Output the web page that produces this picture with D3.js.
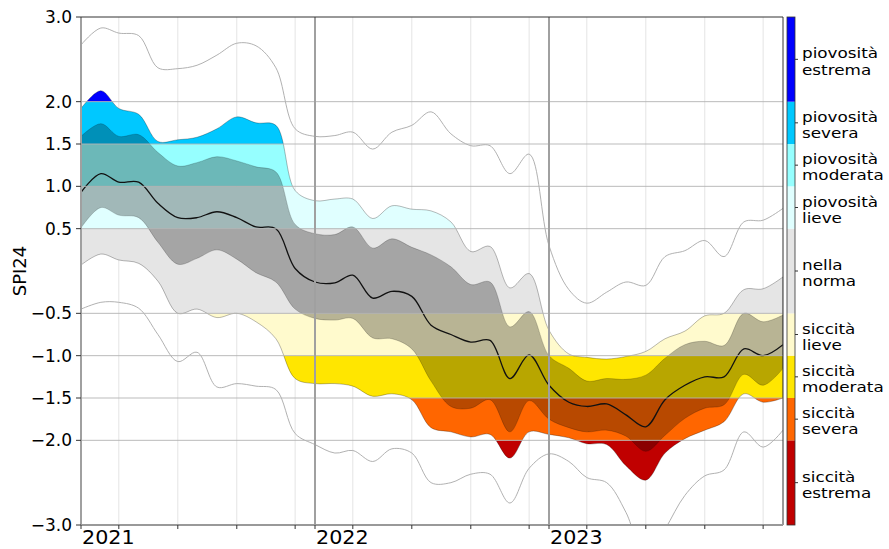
<!DOCTYPE html>
<meta charset="utf-8">
<style>
  body { margin: 0; background: #fff; }
  text { font-family: "DejaVu Sans", sans-serif; fill: #000; }
</style>
<div id="chart"></div>
<script src="https://d3js.org/d3.v7.min.js"></script>
<script>

// monthly samples, Jan 2021 .. Jan 2024
var months = d3.utcMonth.range(new Date(Date.UTC(2021, 0, 1)), new Date(Date.UTC(2024, 0, 2)));

// SPI24 ensemble: envelope, outer band, inner band, median
var spiMax = [2.67, 2.87, 2.81, 2.78, 2.40, 2.39, 2.43, 2.55, 2.69, 2.66, 2.40, 1.68, 1.59, 1.60, 1.64, 1.44, 1.64, 1.72, 1.88, 1.62, 1.48, 1.48, 1.15, 1.38, 0.30, -0.22, -0.38, -0.25, -0.13, -0.17, 0.17, 0.24, 0.36, 0.17, 0.58, 0.60, 0.74];
var spiP90 = [1.92, 2.13, 1.92, 1.85, 1.53, 1.55, 1.58, 1.68, 1.82, 1.75, 1.72, 0.95, 0.83, 0.85, 0.85, 0.62, 0.77, 0.73, 0.71, 0.58, 0.23, 0.29, -0.20, -0.03, -0.70, -0.98, -1.02, -1.04, -1.01, -0.95, -0.80, -0.71, -0.53, -0.50, -0.22, -0.21, -0.07];
var spiP75 = [1.59, 1.74, 1.59, 1.61, 1.40, 1.24, 1.28, 1.35, 1.30, 1.23, 1.17, 0.55, 0.44, 0.43, 0.52, 0.27, 0.38, 0.28, 0.19, 0.05, -0.16, -0.13, -0.66, -0.48, -1.00, -1.15, -1.30, -1.27, -1.28, -1.23, -1.03, -0.87, -0.83, -0.88, -0.50, -0.60, -0.52];
var spiMed = [0.93, 1.15, 1.05, 1.05, 0.80, 0.63, 0.63, 0.70, 0.63, 0.52, 0.50, 0.03, -0.13, -0.14, -0.05, -0.32, -0.24, -0.30, -0.64, -0.75, -0.84, -0.82, -1.27, -0.99, -1.35, -1.55, -1.60, -1.57, -1.70, -1.84, -1.52, -1.35, -1.25, -1.25, -0.92, -1.00, -0.87];
var spiP25 = [0.51, 0.75, 0.66, 0.63, 0.34, 0.08, 0.15, 0.25, 0.14, -0.02, -0.13, -0.45, -0.56, -0.58, -0.56, -0.79, -0.80, -0.92, -1.30, -1.60, -1.62, -1.52, -1.90, -1.53, -1.75, -1.85, -1.90, -1.88, -1.95, -2.13, -1.94, -1.74, -1.62, -1.58, -1.22, -1.35, -1.15];
var spiP10 = [0.07, 0.20, 0.13, 0.09, -0.12, -0.50, -0.45, -0.55, -0.50, -0.60, -0.80, -1.27, -1.33, -1.33, -1.36, -1.48, -1.45, -1.52, -1.85, -1.90, -1.96, -1.93, -2.21, -1.90, -1.93, -1.97, -2.04, -2.05, -2.30, -2.47, -2.15, -1.98, -1.88, -1.78, -1.45, -1.55, -1.50];
var spiMin = [-0.45, -0.37, -0.37, -0.44, -0.75, -1.07, -0.96, -1.37, -1.33, -1.36, -1.40, -1.92, -2.05, -2.15, -2.12, -2.25, -2.10, -2.15, -2.50, -2.50, -2.40, -2.40, -2.74, -2.33, -2.16, -2.25, -2.44, -2.50, -2.85, -3.40, -3.05, -2.65, -2.42, -2.35, -1.90, -2.08, -1.88];

// SPI classes
var classEdges = [-3, -2, -1.5, -1, -0.5, 0.5, 1, 1.5, 2, 3];
var classColors = ["#c00000", "#ff6600", "#ffe600", "#fffacd", "#e5e5e5", "#e0ffff", "#96ffff", "#00c8ff", "#0000ff"];
var classLabels = [["siccità", "estrema"], ["siccità", "severa"], ["siccità", "moderata"], ["siccità", "lieve"],
                   ["nella", "norma"], ["piovosità", "lieve"], ["piovosità", "moderata"], ["piovosità", "severa"], ["piovosità", "estrema"]];

var yTicks = [3.0, 2.0, 1.5, 1.0, 0.5, -0.5, -1.0, -1.5, -2.0, -3.0];
var yearLabels = ["2021", "2022", "2023"];

var margin = {top: 17, right: 106, bottom: 24, left: 81},
    width = 889 - margin.left - margin.right,
    height = 549 - margin.top - margin.bottom;

var svg = d3.select("#chart").append("svg")
    .attr("width", 889).attr("height", 549);
var defs = svg.append("defs");
var plot = svg.append("g")
    .attr("transform", "translate(" + margin.left + "," + margin.top + ")");

var x = d3.scaleUtc()
    .domain([new Date(Date.UTC(2021, 0, 1)), new Date(Date.UTC(2024, 0, 1))])
    .range([0, width]);
var y = d3.scaleLinear().domain([-3, 3]).range([height, 0]);

var rows = months.map(function(d, i) {
  return {date: d, max: spiMax[i], p90: spiP90[i], p75: spiP75[i], med: spiMed[i], p25: spiP25[i], p10: spiP10[i], min: spiMin[i]};
});
var bands = classColors.map(function(c, i) {
  return {lo: classEdges[i], hi: classEdges[i + 1], color: c, label: classLabels[i]};
});

var curve = d3.curveCatmullRom.alpha(0.5);

defs.append("clipPath").attr("id", "plotClip")
  .append("rect").attr("width", width).attr("height", height);

// minor grid (Mar, Jun, Sep, Dec)
var minorDates = d3.utcMonth.range(x.domain()[0], x.domain()[1]).filter(function(d) { return d.getUTCMonth() % 3 === 2; });
plot.append("g").selectAll("line").data(minorDates).join("line")
    .attr("x1", d => x(d)).attr("x2", d => x(d))
    .attr("y1", 0).attr("y2", height)
    .attr("stroke", "#e4e4e4").attr("stroke-width", 1);

var data = plot.append("g").attr("clip-path", "url(#plotClip)");

// outer band coloured by SPI class
var outerArea = d3.area().curve(curve)
    .x(d => x(d.date)).y0(d => y(d.p10)).y1(d => y(d.p90));
defs.append("clipPath").attr("id", "fanClip")
  .append("path").attr("d", outerArea(rows));
data.append("g").attr("clip-path", "url(#fanClip)")
  .selectAll("rect").data(bands).join("rect")
    .attr("x", 0).attr("width", width)
    .attr("y", d => y(d.hi)).attr("height", d => y(d.lo) - y(d.hi))
    .attr("fill", d => d.color);
data.append("path").attr("d", outerArea(rows))
    .attr("fill", "none").attr("stroke", "#000").attr("stroke-opacity", 0.35).attr("stroke-width", 0.8);

// inner band
var innerArea = d3.area().curve(curve)
    .x(d => x(d.date)).y0(d => y(d.p25)).y1(d => y(d.p75));
data.append("path").attr("d", innerArea(rows))
    .attr("fill", "#000").attr("fill-opacity", 0.28)
    .attr("stroke", "#000").attr("stroke-opacity", 0.25).attr("stroke-width", 0.8);

// horizontal grid
plot.append("g").selectAll("line").data(yTicks.filter(d => Math.abs(d) < 3)).join("line")
    .attr("x1", 0).attr("x2", width)
    .attr("y1", d => y(d)).attr("y2", d => y(d))
    .attr("stroke", "#b4b4b4").attr("stroke-opacity", 0.9).attr("stroke-width", 1);

// year lines
var years = d3.utcYear.range(x.domain()[0], x.domain()[1]);
plot.append("g").selectAll("line").data(years).join("line")
    .attr("x1", d => x(d)).attr("x2", d => x(d))
    .attr("y1", 0).attr("y2", height)
    .attr("stroke", "#a0a0a0").attr("stroke-width", 2);

// envelope and median
["max", "min"].forEach(function(k) {
  data.append("path")
      .attr("d", d3.line().curve(curve).x(d => x(d.date)).y(d => y(d[k]))(rows))
      .attr("fill", "none").attr("stroke", "#a8a8a8").attr("stroke-width", 0.9);
});
data.append("path")
    .attr("d", d3.line().curve(curve).x(d => x(d.date)).y(d => y(d.med))(rows))
    .attr("fill", "none").attr("stroke", "#111").attr("stroke-width", 1.3);

// frame
plot.append("line").attr("x1", 0).attr("x2", width).attr("y1", 0).attr("y2", 0)
    .attr("stroke", "#333").attr("stroke-width", 1);
plot.append("line").attr("x1", width).attr("x2", width).attr("y1", 0).attr("y2", height)
    .attr("stroke", "#333").attr("stroke-width", 1);
plot.append("line").attr("x1", 0).attr("x2", width).attr("y1", height).attr("y2", height)
    .attr("stroke", "#999").attr("stroke-width", 2);

// y axis
var yAxis = plot.append("g");
yAxis.selectAll("line").data(yTicks).join("line")
    .attr("x1", -5).attr("x2", 0)
    .attr("y1", d => y(d)).attr("y2", d => y(d))
    .attr("stroke", "#333");
yAxis.selectAll("text").data(yTicks).join("text")
    .attr("x", -9).attr("y", d => y(d)).attr("dy", "0.36em")
    .attr("text-anchor", "end").style("font-size", "17px")
    .text(d => d3.format(".1f")(d));

svg.append("text")
    .attr("transform", "translate(26," + (margin.top + height / 2) + ") rotate(-90)")
    .attr("text-anchor", "middle").style("font-size", "18px")
    .text("SPI24");

// x axis
var xAxis = plot.append("g").attr("transform", "translate(0," + height + ")");
xAxis.selectAll("line").data(minorDates.concat(years)).join("line")
    .attr("x1", d => x(d)).attr("x2", d => x(d))
    .attr("y1", 0).attr("y2", 4)
    .attr("stroke", "#333");
xAxis.selectAll("text").data(years).join("text")
    .attr("transform", d => "translate(" + (x(d) + 1) + ",19) scale(1.06,1)")
    .style("font-size", "19.5px")
    .text((d, i) => yearLabels[i]);

// colour bar
var cbar = svg.append("g").attr("transform", "translate(" + (margin.left + width + 4) + "," + margin.top + ")");
cbar.selectAll("rect").data(bands).join("rect")
    .attr("x", 0).attr("width", 8)
    .attr("y", d => y(d.hi)).attr("height", d => y(d.lo) - y(d.hi))
    .attr("fill", d => d.color);
cbar.append("rect").attr("width", 8).attr("height", height)
    .attr("fill", "none").attr("stroke", "#333").attr("stroke-width", 0.8);
cbar.selectAll("line.tk").data(bands).join("line")
    .attr("class", "tk")
    .attr("x1", 8).attr("x2", 11)
    .attr("y1", d => y((d.lo + d.hi) / 2)).attr("y2", d => y((d.lo + d.hi) / 2))
    .attr("stroke", "#333");
var lab = cbar.selectAll("text").data(bands).join("text")
    .attr("transform", d => "translate(15," + (y((d.lo + d.hi) / 2) - 1) + ") scale(1.2,1)")
    .style("font-size", "14px");
lab.append("tspan").attr("x", 0).text(d => d.label[0]);
lab.append("tspan").attr("x", 0).attr("dy", 16.3).text(d => d.label[1]);

</script>
